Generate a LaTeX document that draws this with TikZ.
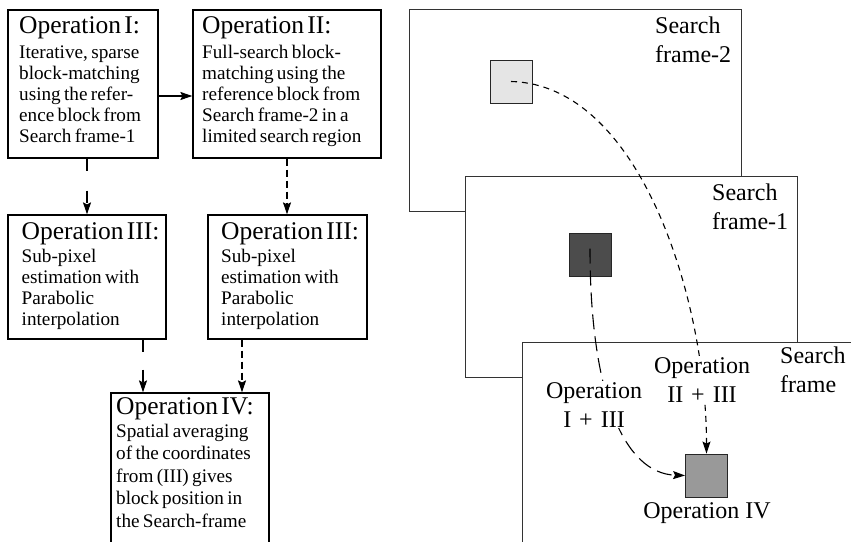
\documentclass[tikz,border=0pt]{standalone}
\usepackage{fontspec}
\setmainfont{Liberation Serif}
\usetikzlibrary{arrows.meta}

\newcommand\opHead{\fontsize{25.5}{26}\selectfont}
\newcommand\opBody{\fontsize{19.2}{21}\selectfont}
\newcommand\opLabel{\fontsize{24}{29}\selectfont}

\begin{document}
\begin{tikzpicture}[x=1pt,y=-1pt,
  opbox/.style={draw, line width=1.2pt, rectangle, inner sep=0pt},
  optext/.style={anchor=base west, inner sep=0pt, text width=220pt, align=left},
  sframe/.style={draw=black!80, fill=white, line width=0.9pt, minimum width=332pt, inner sep=0pt},
  blk/.style={draw=black!85, line width=0.9pt, minimum width=42pt, minimum height=43pt, inner sep=0pt},
  arr/.style={-{Stealth[length=12pt,width=8pt,inset=2pt]}, line width=1.1pt},
  stext/.style={anchor=base west, font=\opLabel, text width=90pt, align=left, inner sep=0pt},
  oplbl/.style={anchor=base, fill=white, font=\opLabel, text width=104pt, align=center, inner sep=1pt}
]
\useasboundingbox (0,0) rectangle (851,541);
\clip (0,0) rectangle (851,541);

% ---- processing chain (left) ----
\node[opbox, minimum width=150pt, minimum height=148pt] (bI) at (83,84) {};
\node[opbox, minimum width=188pt, minimum height=148pt] (bII) at (287,84) {};
\node[opbox, minimum width=158pt, minimum height=124pt] (bIII) at (87,277) {};
\node[opbox, minimum width=159pt, minimum height=124pt] (bIIIb) at (287.5,277) {};
\node[opbox, minimum width=158pt, minimum height=167pt] (bIV) at (190,476.5) {};

% each text ends with \par so the body leading applies to its last line too
\node[optext] (tI) at (19,33) {\opHead Operation I:\par\vspace{4pt}\opBody
  Iterative, sparse\\block-matching\\using the refer-\\ence block from\\Search frame-1\par};
\node[optext] (tII) at (202,33) {\opHead Operation II:\par\vspace{4pt}\opBody
  Full-search block-\\matching using the\\reference block from\\Search frame-2 in a\\limited search region\par};
\node[optext] (tIII) at (21.5,239) {\opHead Operation III:\par\vspace{1.7pt}\opBody
  \baselineskip=21.3pt Sub-pixel\\estimation with\\Parabolic\\interpolation\par};
\node[optext] (tIIIb) at (221,239) {\opHead Operation III:\par\vspace{1.7pt}\opBody
  \baselineskip=21.3pt Sub-pixel\\estimation with\\Parabolic\\interpolation\par};
\node[optext] (tIV) at (116,414) {\opHead Operation IV:\par\vspace{0.5pt}\opBody
  \baselineskip=22.5pt Spatial averaging\\of the coordinates\\from (III) gives\\block position in\\the Search-frame\par};

\draw[arr] ([yshift=-12pt]bI.east) -- ([yshift=-12pt]bII.west);
\draw[arr, dash pattern=on 12pt off 20pt] (bI.south -| bIII.north) -- (bIII.north);
\draw[arr, dash pattern=on 7pt off 4pt] (bII.south) -- (bII.south |- bIIIb.north);
\draw[arr, dash pattern=on 12pt off 18pt] ([xshift=56pt]bIII.south) -- ([xshift=56pt]bIII.south |- bIV.north);
\draw[arr, dash pattern=on 7pt off 4pt] ([xshift=-45.5pt]bIIIb.south) -- ([xshift=-45.5pt]bIIIb.south |- bIV.north);

% ---- stacked search frames (right) ----
\node[sframe, minimum height=202pt] (f2) at (575,110) {};
\node[sframe, minimum height=201pt] (f1) at (631,276.5) {};
\node[sframe, minimum height=201pt] (f0) at (688,442.5) {};

\node[stext] (s2) at (655,33) {Search\\frame-2};
\node[stext] (s1) at (712,200) {Search\\frame-1};
\node[stext] (s0) at (780,363) {Search\\frame};

\node[blk, fill=black!10] (b2) at (511,81.5) {};
\node[blk, fill=black!70] (b1) at (590,254.5) {};
\node[blk, fill=black!40] (b0) at (706.5,475.5) {};

\draw[arr, dash pattern=on 6pt off 5pt] (b2.center) .. controls +(129,3) and +(0,-154) .. (b0.north);
\draw[arr, dash pattern=on 15pt off 7pt] ([yshift=6pt]b1.center) .. controls +(0,146) and +(-61,-2) .. (b0.west);

\node[oplbl] (la) at (594,398) {Operation\\I + III};
\node[oplbl] (lb) at (702,373) {Operation\\II + III};
\node[anchor=base, font=\opLabel, inner sep=0pt] (liv) at (707,518) {Operation IV};
\end{tikzpicture}
\end{document}
